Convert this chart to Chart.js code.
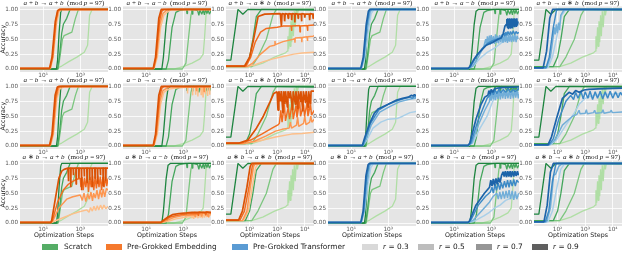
<!DOCTYPE html>
<html><head><meta charset="utf-8">
<script src="https://cdn.jsdelivr.net/npm/chart.js@4.4.1/dist/chart.umd.min.js"></script>
<style>
html,body{margin:0;padding:0;background:#fff;width:640px;height:258px;overflow:hidden;position:relative;font-family:'DejaVu Sans',sans-serif}
canvas{position:absolute}
.t{position:absolute;width:130px;text-align:center;font-family:'Liberation Serif',serif;font-size:7.1px;line-height:7px;height:7px;color:#222;white-space:nowrap}
.lg{position:absolute;top:243px;height:8px;font-size:7.4px;line-height:8px;color:#222;white-space:nowrap}
.lg i{font-family:'Liberation Serif',serif;font-size:8px}
.pt{position:absolute;top:244px;width:16px;height:6px}
</style></head><body>
<script>
// ---------------- DATA ----------------
// each line: [optimization step, accuracy]; each panel lists r = 0.3, 0.5, 0.7, 0.9
const rValues = [0.3, 0.5, 0.7, 0.9];
const taskNames = ['a + b', 'a − b', 'a ∗ b'];
const modulus = 97;
const xTickValuesA = [10, 1000];
const xTickValuesB = [100, 1000, 10000];
const yTickValues = [0, 0.25, 0.5, 0.75, 1];
const legendLabels = ['Scratch', 'Pre-Grokked Embedding', 'Pre-Grokked Transformer'];

// scratch (depends on target task only)
const scratchAdd = [
 [[0.5,0],[43,0],[100,0.05],[230,0.12],[660,0.2],[1660,0.28],[2500,0.4],[3200,0.9],[4400,1],[32000,1]],
 [[0.5,0],[65,0],[80,0.2],[110,0.5],[135,0.56],[355,0.62],[550,0.85],[800,1],[32000,1]],
 [[0.5,0],[60,0],[75,0.2],[100,0.6],[123,0.75],[186,0.85],[282,1],[32000,1]],
 [[0.5,0],[52,0],[60,0.15],[72,0.6],[88,0.95],[100,1],[32000,1]]
];
const scratchSub = [
 [[0.5,0],[300,0],[1000,0.04],[3000,0.1],[8000,0.17],[12000,0.25],[14000,0.5],[17000,0.9],[21000,1],[32000,1]],
 [[0.5,0],[900,0],[1400,0.1],[1900,0.5],[2600,0.9],[3200,1],[32000,1]],
 [[0.5,0],[120,0],[160,0.15],[250,0.7],[400,0.95],[600,0.98],[1500,1],[1600,0.93],[1700,1],[2900,1],[3100,0.92],[3300,1],[6000,0.98],[7000,0.9],[8000,0.99],[10000,0.92],[12000,0.99],[14000,0.91],[16000,1],[19000,0.93],[22000,0.99],[26000,0.92],[32000,0.98]],
 [[0.5,0],[70,0],[85,0.2],[120,0.75],[152,0.97],[200,1],[32000,1]]
];
const scratchMul = [
 [[10,0.04],[120,0.04],[300,0.1],[800,0.2],[2000,0.27],[2300,0.3],[2450,0.55],[2600,0.34],[2800,0.7],[2950,0.38],[3150,0.8],[3350,0.45],[3600,0.9],[3850,0.55],[4150,0.97],[4500,0.7],[4900,1],[5400,0.9],[5800,1],[22000,1]],
 [[10,0.04],[120,0.04],[200,0.2],[405,0.5],[700,0.9],[935,1],[22000,1]],
 [[10,0.04],[70,0.04],[100,0.2],[132,0.5],[175,0.88],[267,1],[22000,1]],
 [[10,0.15],[21,0.15],[38,1],[57,0.92],[87,1],[22000,0.99]]
];

// pre-grokked embedding
const embAddAdd = [
 [[0.5,0.01],[25,0.01],[35,0.2],[52,0.75],[70,0.95],[95,1],[32000,1]],
 [[0.5,0.01],[24,0.01],[33,0.2],[50,0.8],[66,0.97],[85,1],[32000,1]],
 [[0.5,0.01],[23,0.01],[32,0.2],[48,0.8],[62,0.98],[80,1],[32000,1]],
 [[0.5,0.01],[22,0.01],[30,0.2],[45,0.8],[60,0.98],[75,1],[32000,1]]
];
const embAddSub = [
 [[0.5,0.01],[27,0.01],[40,0.2],[60,0.7],[90,0.9],[130,0.95],[180,0.98],[250,1],[32000,1]],
 [[0.5,0.01],[26,0.01],[36,0.2],[55,0.75],[80,0.93],[110,0.97],[150,1],[32000,1]],
 [[0.5,0.01],[25,0.01],[34,0.2],[52,0.8],[70,0.97],[90,1],[32000,1]],
 [[0.5,0.01],[24,0.01],[32,0.2],[48,0.85],[65,1],[32000,1]]
];
const embAddMul = [
 [[10,0.04],[85,0.04],[150,0.07],[300,0.12],[700,0.17],[1630,0.21],[4000,0.25],[8000,0.27],[22000,0.28]],
 [[10,0.04],[80,0.04],[130,0.1],[250,0.25],[535,0.38],[800,0.4],[830,0.47],[860,0.41],[1630,0.46],[3800,0.5],[4300,0.51],[4400,0.44],[4500,0.52],[7600,0.53],[7800,0.45],[8000,0.53],[12000,0.54],[12400,0.47],[12800,0.54],[20000,0.55],[22000,0.56]],
 [[10,0.05],[75,0.05],[110,0.2],[160,0.45],[250,0.62],[405,0.68],[1000,0.7],[1630,0.72],[3200,0.72],[3300,0.64],[3400,0.72],[6500,0.73],[6700,0.62],[6900,0.72],[12000,0.73],[12500,0.64],[13000,0.73],[22000,0.74]],
 [[10,0.05],[66,0.05],[100,0.2],[140,0.5],[203,0.88],[353,0.92],[1300,0.93],[1420,0.72],[1500,0.93],[1800,0.92],[1860,0.8],[1950,0.93],[2400,0.92],[2500,0.85],[2600,0.93],[3250,0.92],[3350,0.82],[3450,0.93],[4250,0.92],[4360,0.78],[4500,0.93],[5600,0.92],[5750,0.85],[5900,0.92],[7400,0.92],[7600,0.8],[7800,0.93],[9700,0.92],[10000,0.86],[10300,0.92],[14500,0.92],[15000,0.82],[15500,0.93],[19500,0.92],[20000,0.85],[20500,0.92],[22000,0.92]]
];
const embSubAdd = [
 [[0.5,0.01],[25,0.01],[36,0.2],[55,0.8],[80,0.96],[110,0.98],[150,1],[32000,1]],
 [[0.5,0.01],[24,0.01],[34,0.2],[50,0.8],[68,0.97],[90,1],[32000,1]],
 [[0.5,0.01],[23,0.01],[32,0.2],[47,0.8],[62,0.98],[80,1],[32000,1]],
 [[0.5,0.01],[22,0.01],[30,0.2],[44,0.85],[58,0.99],[72,1],[32000,1]]
];
const embSubSub = [
 [[0.5,0.01],[27,0.01],[40,0.2],[60,0.7],[90,0.9],[150,0.95],[300,0.97],[1000,0.98],[1650,0.99],[1700,0.88],[1750,0.99],[3100,0.99],[3200,0.85],[3300,0.99],[4500,0.99],[4700,0.86],[4900,0.99],[6000,0.99],[6200,0.83],[6400,0.99],[9000,0.99],[9300,0.86],[9600,0.99],[11300,0.98],[11700,0.82],[12000,0.99],[15000,0.98],[15500,0.87],[16000,0.99],[20000,0.99],[20600,0.84],[21200,0.99],[26000,0.99],[26800,0.86],[27500,0.99],[32000,0.99]],
 [[0.5,0.01],[26,0.01],[36,0.2],[55,0.75],[80,0.93],[130,0.97],[200,1],[5000,0.99],[5200,0.92],[5400,1],[13000,1],[13400,0.91],[13800,1],[32000,1]],
 [[0.5,0.01],[25,0.01],[34,0.2],[52,0.8],[70,0.97],[90,1],[32000,1]],
 [[0.5,0.01],[24,0.01],[32,0.2],[48,0.85],[65,1],[32000,1]]
];
const embSubMul = [
 [[10,0.04],[60,0.04],[200,0.08],[870,0.15],[3300,0.2],[8000,0.21],[22000,0.23]],
 [[10,0.04],[60,0.04],[150,0.08],[400,0.17],[870,0.25],[1500,0.28],[2700,0.3],[3000,0.4],[3300,0.3],[5000,0.35],[5500,0.48],[6000,0.33],[9000,0.38],[10000,0.5],[11000,0.36],[15000,0.4],[16500,0.5],[18000,0.4],[22000,0.45]],
 [[10,0.05],[50,0.05],[110,0.1],[275,0.2],[650,0.3],[1100,0.36],[1200,0.38],[1350,0.6],[1500,0.4],[1800,0.7],[2000,0.42],[2500,0.65],[2800,0.45],[3500,0.72],[3800,0.45],[4800,0.68],[5200,0.48],[6500,0.75],[7000,0.5],[9000,0.7],[9800,0.5],[12000,0.72],[13000,0.5],[16000,0.7],[17500,0.52],[22000,0.6]],
 [[10,0.05],[42,0.05],[87,0.1],[177,0.3],[315,0.5],[560,0.75],[745,0.88],[990,0.91],[1070,0.6],[1150,0.92],[1320,0.75],[1400,0.92],[1620,0.55],[1700,0.92],[1900,0.7],[2000,0.92],[2340,0.65],[2450,0.92],[2880,0.8],[3000,0.92],[3630,0.6],[3800,0.92],[4570,0.7],[4750,0.92],[5620,0.62],[5850,0.92],[6920,0.75],[7200,0.92],[8510,0.58],[8850,0.92],[10700,0.72],[11100,0.92],[13200,0.65],[13700,0.92],[16200,0.7],[16800,0.92],[22000,0.92]]
];
const embMulAdd = [
 [[0.5,0.01],[30,0.01],[40,0.03],[100,0.08],[355,0.15],[900,0.19],[2300,0.22],[3000,0.18],[3600,0.26],[4500,0.2],[5500,0.28],[6800,0.21],[8300,0.29],[10000,0.22],[12500,0.3],[15500,0.23],[19000,0.3],[24000,0.24],[32000,0.28]],
 [[0.5,0.01],[28,0.01],[35,0.05],[70,0.25],[186,0.4],[400,0.44],[1000,0.47],[1300,0.38],[1600,0.5],[2000,0.36],[2500,0.49],[3100,0.4],[3800,0.52],[4600,0.37],[5300,0.5],[6500,0.42],[8000,0.55],[9800,0.4],[12000,0.56],[14500,0.43],[17500,0.57],[21000,0.44],[26000,0.58],[32000,0.55]],
 [[0.5,0.01],[27,0.01],[32,0.05],[60,0.35],[120,0.55],[229,0.65],[400,0.7],[600,0.73],[1000,0.75],[1100,0.6],[1250,0.77],[1450,0.55],[1700,0.76],[2000,0.6],[2400,0.78],[2800,0.52],[3300,0.77],[3900,0.6],[4600,0.79],[5400,0.55],[6400,0.78],[7500,0.58],[8800,0.79],[10300,0.6],[12100,0.78],[14200,0.55],[16700,0.77],[19600,0.6],[23000,0.78],[27000,0.62],[32000,0.75]],
 [[0.5,0.01],[26,0.01],[29,0.05],[45,0.4],[70,0.75],[100,0.87],[135,0.9],[220,0.92],[229,0.7],[240,0.92],[300,0.92],[309,0.6],[320,0.92],[415,0.92],[427,0.8],[440,0.92],[585,0.92],[603,0.65],[620,0.92],[830,0.92],[851,0.75],[875,0.92],[1140,0.92],[1175,0.55],[1210,0.92],[1610,0.92],[1660,0.78],[1710,0.92],[2270,0.92],[2340,0.68],[2410,0.92],[3150,0.92],[3240,0.72],[3340,0.92],[4340,0.92],[4470,0.6],[4600,0.92],[6120,0.92],[6310,0.75],[6500,0.92],[8450,0.92],[8710,0.66],[8970,0.92],[11900,0.92],[12300,0.8],[12700,0.92],[16900,0.92],[17400,0.62],[17900,0.92],[23300,0.92],[24000,0.7],[24700,0.92],[32000,0.92]]
];
const embMulSub = [
 [[0.5,0.01],[70,0.01],[150,0.03],[400,0.07],[1500,0.1],[2500,0.11],[2700,0.18],[2900,0.08],[3300,0.17],[3700,0.07],[4200,0.19],[4800,0.09],[5500,0.18],[6300,0.08],[7200,0.2],[8200,0.09],[9400,0.18],[10700,0.08],[12200,0.19],[14000,0.09],[16000,0.2],[18300,0.1],[21000,0.19],[24000,0.09],[27500,0.18],[32000,0.12]],
 [[0.5,0.01],[70,0.01],[120,0.04],[300,0.09],[800,0.12],[2000,0.13],[4000,0.14],[4500,0.1],[5000,0.17],[9000,0.15],[10000,0.11],[11000,0.18],[20000,0.15],[22000,0.11],[24000,0.18],[32000,0.15]],
 [[0.5,0.01],[65,0.01],[100,0.05],[200,0.1],[500,0.13],[1500,0.15],[6000,0.16],[6600,0.12],[7200,0.18],[15000,0.17],[16500,0.13],[18000,0.19],[32000,0.17]],
 [[0.5,0.01],[60,0.01],[90,0.05],[150,0.1],[260,0.14],[600,0.16],[1500,0.17],[3000,0.18],[32000,0.18]]
];
const embMulMul = [
 [[10,0.04],[60,0.04],[90,0.2],[125,0.6],[165,0.93],[210,1],[22000,1]],
 [[10,0.04],[55,0.04],[80,0.2],[110,0.65],[140,0.95],[165,1],[22000,1]],
 [[10,0.05],[45,0.05],[65,0.2],[95,0.6],[125,0.95],[140,1],[22000,1]],
 [[10,0.05],[40,0.05],[55,0.2],[80,0.6],[105,0.95],[120,1],[22000,1]]
];

// pre-grokked transformer
const trfAddAdd = [
 [[0.5,0.01],[36,0.01],[52,0.15],[80,0.6],[120,0.93],[170,1],[32000,1]],
 [[0.5,0.01],[35,0.01],[50,0.2],[75,0.7],[105,0.95],[130,1],[32000,1]],
 [[0.5,0.01],[34,0.01],[48,0.2],[70,0.75],[95,0.97],[115,1],[32000,1]],
 [[0.5,0.01],[33,0.01],[45,0.2],[65,0.75],[85,0.97],[100,1],[32000,1]]
];
const trfAddSub = [
 [[0.5,0.01],[60,0.01],[110,0.05],[250,0.18],[600,0.28],[1500,0.35],[3000,0.42],[5000,0.48],[10000,0.5],[28000,0.52]],
 [[0.5,0.01],[60,0.01],[100,0.05],[200,0.2],[400,0.38],[500,0.5],[560,0.4],[620,0.55],[700,0.42],[800,0.56],[900,0.41],[1000,0.57],[1150,0.43],[1300,0.55],[1500,0.42],[1700,0.58],[1950,0.44],[2200,0.56],[2500,0.43],[2900,0.57],[3300,0.45],[3800,0.58],[4300,0.44],[5000,0.57],[5700,0.45],[6500,0.56],[7500,0.44],[8500,0.57],[9700,0.46],[11000,0.58],[12500,0.45],[14500,0.57],[16500,0.46],[19000,0.58],[22000,0.45],[25000,0.56],[28000,0.5]],
 [[0.5,0.01],[58,0.01],[80,0.05],[150,0.2],[300,0.33],[700,0.44],[1100,0.47],[2000,0.5],[3000,0.52],[4000,0.56],[5000,0.6],[5500,0.55],[6200,0.62],[7000,0.56],[8000,0.63],[9500,0.57],[11000,0.63],[13000,0.58],[15500,0.64],[18500,0.58],[22000,0.63],[26000,0.59],[30000,0.62]],
 [[0.5,0.01],[55,0.01],[66,0.03],[110,0.15],[186,0.25],[540,0.4],[1230,0.45],[2340,0.5],[3500,0.52],[4500,0.6],[5500,0.72],[6600,0.75],[7000,0.84],[7400,0.7],[7800,0.85],[8300,0.68],[8800,0.84],[9400,0.7],[10000,0.85],[10700,0.69],[11400,0.84],[12200,0.7],[13000,0.85],[14000,0.68],[15000,0.84],[16000,0.71],[17000,0.85],[18500,0.7],[20000,0.84],[22000,0.72],[24000,0.85],[26000,0.73],[28000,0.8]]
];
const trfAddMul = [
 [[10,0.02],[45,0.02],[65,0.2],[100,0.6],[140,0.9],[200,1],[22000,1]],
 [[10,0.02],[40,0.02],[55,0.2],[70,0.55],[76,0.7],[82,0.58],[90,0.75],[98,0.6],[108,0.78],[118,0.65],[130,0.9],[150,0.95],[174,1],[22000,1]],
 [[10,0.02],[38,0.02],[50,0.2],[70,0.7],[90,0.97],[100,1],[22000,1]],
 [[10,0.02],[30,0.02],[40,0.3],[52,0.85],[66,1],[22000,1]]
];
const trfSubAdd = [
 [[0.5,0.01],[45,0.01],[70,0.1],[150,0.3],[400,0.4],[1000,0.45],[3000,0.46],[6000,0.5],[15000,0.56],[32000,0.58]],
 [[0.5,0.01],[45,0.01],[65,0.12],[120,0.35],[350,0.57],[1200,0.66],[4000,0.74],[12000,0.78],[32000,0.8]],
 [[0.5,0.01],[42,0.01],[60,0.15],[110,0.38],[300,0.6],[1000,0.7],[3000,0.76],[8000,0.8],[15000,0.82],[20000,0.8],[25000,0.83],[32000,0.82]],
 [[0.5,0.01],[40,0.01],[55,0.15],[100,0.38],[180,0.55],[282,0.62],[1000,0.7],[2830,0.77],[6000,0.8],[12000,0.82],[18000,0.85],[22000,0.84],[26000,0.86],[32000,0.85]]
];
const trfSubSub = [
 [[0.5,0.01],[60,0.01],[100,0.05],[250,0.3],[600,0.5],[1200,0.75],[2000,0.85],[5000,0.88],[32000,0.9]],
 [[0.5,0.01],[60,0.01],[90,0.05],[200,0.35],[450,0.6],[810,0.75],[900,0.9],[1000,0.76],[1150,0.92],[1300,0.78],[1500,0.93],[1700,0.77],[2000,0.92],[2300,0.79],[2700,0.94],[3100,0.78],[3600,0.93],[4200,0.8],[5000,0.94],[5800,0.79],[6800,0.93],[8000,0.8],[9500,0.94],[11000,0.79],[13000,0.93],[15500,0.8],[18000,0.94],[21000,0.81],[25000,0.93],[29000,0.8],[32000,0.88]],
 [[0.5,0.01],[58,0.01],[80,0.05],[180,0.4],[380,0.65],[600,0.8],[900,0.86],[1100,0.93],[1300,0.86],[1600,0.94],[2000,0.88],[2600,0.95],[3300,0.89],[4500,0.95],[6000,0.9],[8000,0.96],[11000,0.9],[15000,0.95],[20000,0.91],[28000,0.96],[32000,0.94]],
 [[0.5,0.01],[55,0.01],[70,0.05],[150,0.45],[282,0.7],[450,0.82],[660,0.85],[750,0.93],[850,0.87],[1000,0.95],[1200,0.9],[1500,0.96],[2200,0.97],[3550,0.98],[32000,0.99]]
];
const trfSubMul = [
 [[10,0.02],[55,0.02],[90,0.1],[200,0.35],[400,0.55],[600,0.7],[1000,0.8],[2000,0.85],[22000,0.88]],
 [[10,0.02],[50,0.02],[80,0.1],[150,0.35],[260,0.45],[350,0.5],[500,0.53],[600,0.6],[650,0.54],[1000,0.55],[1100,0.61],[1200,0.54],[2000,0.56],[2200,0.6],[2400,0.55],[4000,0.56],[4400,0.61],[4800,0.55],[8000,0.57],[8800,0.6],[9600,0.56],[22000,0.57]],
 [[10,0.02],[48,0.02],[70,0.12],[110,0.45],[200,0.75],[300,0.85],[380,0.78],[450,0.9],[550,0.8],[700,0.92],[850,0.79],[1000,0.91],[1250,0.8],[1500,0.92],[1850,0.78],[2300,0.91],[2800,0.8],[3500,0.92],[4300,0.79],[5300,0.91],[6500,0.8],[8000,0.92],[10000,0.8],[12500,0.91],[15500,0.81],[19000,0.9],[22000,0.85]],
 [[10,0.02],[45,0.02],[60,0.15],[90,0.45],[150,0.8],[260,0.9],[350,0.87],[450,0.93],[600,0.9],[900,0.94],[1350,0.95],[3000,0.96],[22000,0.97]]
];
const trfMulAdd = [
 [[0.5,0.01],[36,0.01],[52,0.2],[80,0.65],[115,0.93],[160,1],[32000,1]],
 [[0.5,0.01],[35,0.01],[50,0.2],[75,0.72],[100,0.96],[125,1],[32000,1]],
 [[0.5,0.01],[34,0.01],[47,0.2],[68,0.78],[90,0.98],[110,1],[32000,1]],
 [[0.5,0.01],[33,0.01],[44,0.2],[63,0.8],[82,0.98],[98,1],[32000,1]]
];
const trfMulSub = [
 [[0.5,0.01],[60,0.01],[120,0.03],[400,0.12],[800,0.18],[1500,0.25],[3000,0.3],[6000,0.38],[12000,0.42],[30000,0.45]],
 [[0.5,0.01],[60,0.01],[100,0.04],[300,0.2],[800,0.35],[1300,0.45],[2000,0.5],[2400,0.4],[2900,0.52],[3500,0.4],[4300,0.53],[5200,0.41],[6300,0.54],[7600,0.42],[9200,0.55],[11000,0.4],[13500,0.54],[16500,0.39],[20000,0.53],[24000,0.4],[30000,0.5]],
 [[0.5,0.01],[58,0.01],[80,0.05],[200,0.3],[500,0.45],[900,0.52],[1100,0.6],[1300,0.5],[1600,0.65],[1900,0.55],[2400,0.67],[2900,0.56],[3500,0.68],[4200,0.58],[5200,0.7],[6300,0.6],[7600,0.72],[9200,0.6],[11000,0.72],[13500,0.62],[16500,0.73],[20000,0.62],[24000,0.72],[30000,0.68]],
 [[0.5,0.01],[55,0.01],[66,0.03],[150,0.3],[430,0.5],[810,0.6],[950,0.72],[1100,0.62],[1300,0.74],[1500,0.63],[1800,0.75],[2100,0.65],[2500,0.76],[3000,0.68],[3600,0.8],[4360,0.86],[5000,0.78],[5800,0.87],[6700,0.77],[7800,0.87],[9000,0.78],[10500,0.87],[12000,0.77],[14000,0.87],[16500,0.78],[19000,0.87],[22000,0.79],[26000,0.87],[30000,0.8]]
];
const trfMulMul = [
 [[10,0.02],[45,0.02],[65,0.2],[95,0.6],[130,0.9],[180,1],[22000,1]],
 [[10,0.02],[40,0.02],[55,0.25],[72,0.8],[85,0.82],[110,0.95],[150,1],[22000,1]],
 [[10,0.02],[36,0.02],[48,0.2],[65,0.7],[85,0.97],[95,1],[22000,1]],
 [[10,0.02],[32,0.02],[42,0.3],[55,0.85],[70,1],[22000,1]]
];

// ---------------- STYLE / LAYOUT ----------------
const greens = ['#b0dea5','#7cc67f','#44a65c','#1e8540'];
const oranges = ['#fdbf8a','#fd9650','#f26c1f','#db5205'];
const blues = ['#a9cfe8','#72aed8','#3d8ac6','#1d64a9'];
const legendColors = ['#55ad66','#f5792d','#5a9bd3'];
const greys = ['#d9d9d9','#bdbdbd','#969696','#5f5f5f'];

const COL_LEFT = [20,123,226,328,431,534];
const ROW_TOP = [6,83,160];
const PW = 88, PH = 66, YW = 20, PT = 5, PR = 8;

const panelLines = [
 [embAddAdd, embAddSub, embAddMul, trfAddAdd, trfAddSub, trfAddMul],
 [embSubAdd, embSubSub, embSubMul, trfSubAdd, trfSubSub, trfSubMul],
 [embMulAdd, embMulSub, embMulMul, trfMulAdd, trfMulSub, trfMulMul]
];
const scratchLines = [scratchAdd, scratchSub, scratchMul];
const sup = {1:'¹',2:'²',3:'³',4:'⁴'};

const bgPlugin = {id:'bg', beforeDraw(ch){const a=ch.chartArea,c=ch.ctx;c.save();c.fillStyle='#e5e5e5';c.fillRect(a.left,a.top,a.right-a.left,a.bottom-a.top);c.restore();}};
const toXY = pts => pts.map(([x,y]) => ({x,y}));
const italic = s => s.replace(/([abp])/g,'<i>$1</i>');

for (let r=0;r<3;r++) for (let c=0;c<6;c++) {
  const target = c%3, isB = target===2;
  const colors = c<3 ? oranges : blues;
  const lines = panelLines[r][c];
  const scr = scratchLines[target];
  const XH = r===2 ? 13 : 9;
  const W = YW+PW+PR, H = PT+PH+XH;
  const cv = document.createElement('canvas');
  cv.width = W; cv.height = H;
  cv.style.left = (COL_LEFT[c]-YW)+'px'; cv.style.top = (ROW_TOP[r]-PT)+'px';
  cv.style.width = W+'px'; cv.style.height = H+'px';
  document.body.appendChild(cv);
  const datasets = [];
  for (let k=3;k>=0;k--) datasets.push({data:toXY(lines[k]),borderColor:colors[k],borderWidth:k===3?1.7:1.45});
  for (let k=3;k>=0;k--) datasets.push({data:toXY(scr[k]),borderColor:greens[k],borderWidth:1.3});
  const xt = isB ? xTickValuesB : xTickValuesA;
  new Chart(cv, {
    type:'line',
    data:{datasets},
    options:{
      responsive:false, animation:false, devicePixelRatio:1,
      layout:{padding:{top:PT,right:PR,left:0,bottom:0}},
      plugins:{legend:{display:false},tooltip:{enabled:false},title:{display:false}},
      elements:{point:{radius:0},line:{tension:0,borderJoinStyle:'bevel',fill:false}},
      scales:{
        x:{type:'logarithmic', min:isB?14:0.56, max:isB?21500:31600,
          afterBuildTicks:s=>{s.ticks = xt.map(v=>({value:v}));},
          afterFit:s=>{s.height = XH;},
          grid:{color:'#ffffff',lineWidth:0.8,drawTicks:false},
          border:{display:false},
          ticks:{autoSkip:false,maxRotation:0,padding:0,color:'#555',font:{family:'DejaVu Sans',size:5.8},
            callback:v=>'10'+sup[Math.round(Math.log10(v))]},
          title:{display:r===2,text:'Optimization Steps',color:'#222',font:{family:'DejaVu Sans',size:6.3},padding:0}
        },
        y:{min:-0.05,max:1.05,
          afterBuildTicks:s=>{s.ticks = yTickValues.map(v=>({value:v}));},
          afterFit:s=>{s.width = YW;},
          grid:{color:'#ffffff',lineWidth:0.8,drawTicks:false},
          border:{display:false},
          ticks:{padding:2,color:'#555',font:{family:'DejaVu Sans',size:5.7},callback:v=>Number(v).toFixed(2)},
          title:{display:c===0,text:'Accuracy',color:'#222',font:{family:'DejaVu Sans',size:6.3},padding:0}
        }
      }
    },
    plugins:[bgPlugin]
  });
  const t = document.createElement('div');
  t.className='t';
  t.style.left = (COL_LEFT[c]+PW/2-65)+'px';
  t.style.top = (ROW_TOP[r]-6.5)+'px';
  t.innerHTML = italic(taskNames[r])+' → '+italic(taskNames[target])+'&nbsp; (mod '+italic('p')+' = '+modulus+')';
  document.body.appendChild(t);
}

// legend
const legendItems = [
  {color:legendColors[0], html:legendLabels[0], px:42, tx:64},
  {color:legendColors[1], html:legendLabels[1], px:106, tx:127},
  {color:legendColors[2], html:legendLabels[2], px:232, tx:253},
  {color:greys[0], html:'<i>r</i> = '+rValues[0], px:362, tx:383},
  {color:greys[1], html:'<i>r</i> = '+rValues[1], px:418, tx:439},
  {color:greys[2], html:'<i>r</i> = '+rValues[2], px:476, tx:497},
  {color:greys[3], html:'<i>r</i> = '+rValues[3], px:532, tx:553}
];
for (const it of legendItems) {
  const p = document.createElement('div'); p.className='pt'; p.style.left=it.px+'px'; p.style.background=it.color; document.body.appendChild(p);
  const l = document.createElement('div'); l.className='lg'; l.style.left=it.tx+'px'; l.innerHTML=it.html; document.body.appendChild(l);
}
</script>
</body></html>
